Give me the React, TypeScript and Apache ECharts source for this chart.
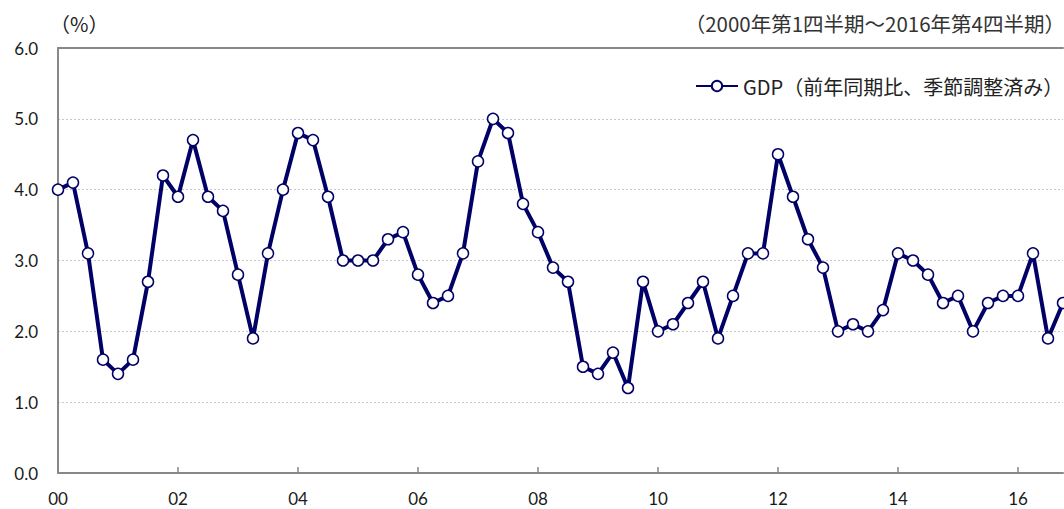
import React, { useEffect, useRef } from "react";
import * as echarts from "echarts";

const years = [2000, 2001, 2002, 2003, 2004, 2005, 2006, 2007, 2008, 2009, 2010, 2011, 2012, 2013, 2014, 2015, 2016];
const quarters = ["Q1", "Q2", "Q3", "Q4"];
const gdpYoY = [
  4.0, 4.1, 3.1, 1.6,
  1.4, 1.6, 2.7, 4.2,
  3.9, 4.7, 3.9, 3.7,
  2.8, 1.9, 3.1, 4.0,
  4.8, 4.7, 3.9, 3.0,
  3.0, 3.0, 3.3, 3.4,
  2.8, 2.4, 2.5, 3.1,
  4.4, 5.0, 4.8, 3.8,
  3.4, 2.9, 2.7, 1.5,
  1.4, 1.7, 1.2, 2.7,
  2.0, 2.1, 2.4, 2.7,
  1.9, 2.5, 3.1, 3.1,
  4.5, 3.9, 3.3, 2.9,
  2.0, 2.1, 2.0, 2.3,
  3.1, 3.0, 2.8, 2.4,
  2.5, 2.0, 2.4, 2.5,
  2.5, 3.1, 1.9, 2.4,
];
const seriesName = "GDP（前年同期比、季節調整済み）";
const unitLabel = "（%）";
const periodLabel = "（2000年第1四半期～2016年第4四半期）";

const categories = years.flatMap((y) => quarters.map((q) => `${y}${q}`));

const NUM_FONT = "Lato, 'Noto Sans CJK JP', sans-serif";
const JP_FONT = "'Noto Sans CJK JP', sans-serif";

export default function App() {
  const ref = useRef<HTMLDivElement>(null);
  useEffect(() => {
    document.body.style.margin = "0";
    const chart = echarts.init(ref.current!, null, { renderer: "svg" });
    chart.setOption({
      animation: false,
      backgroundColor: "#ffffff",
      title: [
        {
          text: unitLabel,
          left: 45,
          top: 8,
          textStyle: { fontFamily: JP_FONT, fontSize: 20, fontWeight: "normal", color: "#222" },
        },
        {
          text: periodLabel,
          right: -6,
          top: 8,
          textStyle: { fontFamily: JP_FONT, fontSize: 20.5, fontWeight: "normal", color: "#333" },
        },
      ],
      legend: {
        left: 690,
        top: 71,
        itemWidth: 42,
        itemHeight: 13,
        itemGap: 4,
        textStyle: { fontFamily: JP_FONT, fontSize: 20, color: "#222" },
        data: [seriesName],
      },
      grid: { left: 58, right: 1, top: 48, bottom: 36, containLabel: false },
      xAxis: [
        {
          type: "category",
          data: categories,
          boundaryGap: false,
          axisLine: { lineStyle: { color: "#888", width: 2 } },
          axisTick: { inside: true, length: 6, interval: 7, lineStyle: { color: "#888", width: 1.5 } },
          axisLabel: {
            interval: 7,
            margin: 17,
            fontFamily: NUM_FONT,
            fontSize: 17,
            color: "#1a1a1a",
            formatter: (v: string) => v.slice(2, 4),
          },
          splitLine: { show: false },
        },
        {
          type: "category",
          data: categories,
          position: "top",
          boundaryGap: false,
          axisLine: { lineStyle: { color: "#888", width: 2 } },
          axisTick: { show: false },
          axisLabel: { show: false },
        },
      ],
      yAxis: {
        type: "value",
        min: 0,
        max: 6,
        interval: 1,
        axisLine: { show: true, lineStyle: { color: "#888", width: 2 } },
        axisTick: { show: false },
        axisLabel: {
          margin: 20,
          fontFamily: NUM_FONT,
          fontSize: 17,
          color: "#1a1a1a",
          formatter: (v: number) => v.toFixed(1),
        },
        splitLine: { show: true, lineStyle: { color: "#c8c8c8", type: [2, 2], width: 1 } },
      },
      series: [
        {
          name: seriesName,
          type: "line",
          data: gdpYoY,
          symbol: "circle",
          symbolSize: 11,
          showSymbol: true,
          showAllSymbol: true,
          lineStyle: { color: "#000066", width: 4 },
          itemStyle: { color: "#ffffff", borderColor: "#000066", borderWidth: 1.5 },
          z: 3,
        },
      ],
    });
    return () => chart.dispose();
  }, []);
  return <div ref={ref} style={{ width: 1064, height: 509 }} />;
}
